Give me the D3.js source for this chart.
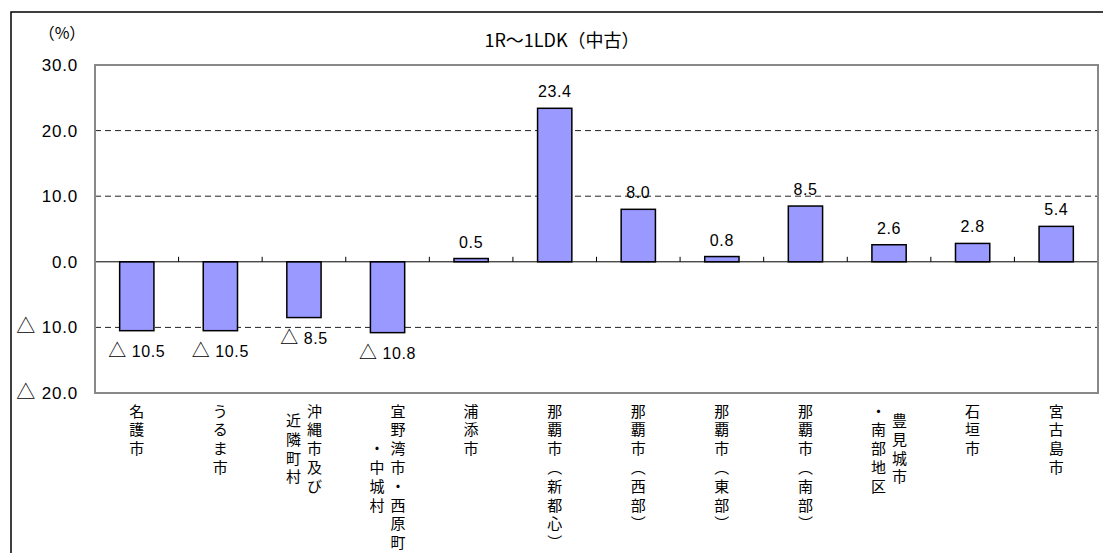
<!DOCTYPE html>
<html>
<head>
<meta charset="utf-8">
<script src="https://cdn.jsdelivr.net/npm/d3@7"></script>
<style>
  body { margin: 0; background: #fff; }
  svg { display: block; }
  text { font-family: "Liberation Sans", "Noto Sans CJK JP", sans-serif; fill: #000; }
  .cjk { font-family: "Noto Sans CJK JP", sans-serif; }
</style>
</head>
<body>
<div id="chart"></div>
<script>
// Data
const categories = ['名護市', 'うるま市', '沖縄市及び近隣町村', '宜野湾市・西原町・中城村', '浦添市',
  '那覇市（新都心）', '那覇市（西部）', '那覇市（東部）', '那覇市（南部）', '豊見城市・南部地区', '石垣市', '宮古島市'];
// vertical label columns, right to left
const labelLines = [['名護市'], ['うるま市'], ['沖縄市及び', '近隣町村'], ['宜野湾市・西原町', '・中城村'], ['浦添市'],
  ['那覇市（新都心）'], ['那覇市（西部）'], ['那覇市（東部）'], ['那覇市（南部）'], ['豊見城市', '・南部地区'], ['石垣市'], ['宮古島市']];
const values = [-10.5, -10.5, -8.5, -10.8, 0.5, 23.4, 8.0, 0.8, 8.5, 2.6, 2.8, 5.4];
const yTicks = [30, 20, 10, 0, -10, -20];
const gridTicks = [20, 10, -10];
const title = '1R～1LDK（中古）';
const unit = '（%）';

const W = 1103, H = 553;
const plot = { l: 95, t: 65, r: 1098, b: 393 };

const fmt = (v) => (v < 0 ? '△ ' + Math.abs(v).toFixed(1) : v.toFixed(1));

// put the triangle in the CJK font, numbers in the sans font
function triText(sel) {
  sel.each(function (d) {
    const t = d3.select(this).text('');
    if (d < 0) {
      t.append('tspan').attr('class', 'cjk').attr('font-size', '1.12em').text('△');
      t.append('tspan').text('\u00a0' + Math.abs(d).toFixed(1));
    } else {
      t.append('tspan').text(d.toFixed(1));
    }
  });
}

const svg = d3.select('#chart').append('svg').attr('width', W).attr('height', H);

// outer frame (runs past the window)
svg.append('rect')
  .attr('x', 11).attr('y', 12).attr('width', 1120).attr('height', 580)
  .attr('fill', 'none').attr('stroke', '#000').attr('stroke-width', 1.5);

const y = d3.scaleLinear([-20, 30], [plot.b, plot.t]);
const xOuter = d3.scaleBand(categories, [plot.l, plot.r]);
const x = d3.scaleBand(categories, [plot.l, plot.r]).paddingInner(0.59).paddingOuter(0.295);

// grid
svg.append('g')
  .selectAll('line')
  .data(gridTicks)
  .join('line')
  .attr('x1', plot.l).attr('x2', plot.r)
  .attr('y1', (d) => y(d)).attr('y2', (d) => y(d))
  .attr('stroke', '#222').attr('stroke-width', 1).attr('stroke-dasharray', '6,4');

// y axis labels
const yAxis = svg.append('g')
  .attr('transform', `translate(${plot.l}, 0)`)
  .call(d3.axisLeft(y).tickValues(yTicks).tickFormat(fmt).tickSize(0).tickPadding(17));
yAxis.select('.domain').remove();
yAxis.selectAll('text')
  .attr('font-size', 17).attr('font-family', null).attr('fill', '#000')
  .attr('letter-spacing', 0.8)
  .call(triText);

// bars
svg.append('g')
  .selectAll('rect')
  .data(values)
  .join('rect')
  .attr('x', (d, i) => x(categories[i]))
  .attr('y', (d) => y(Math.max(0, d)))
  .attr('width', x.bandwidth())
  .attr('height', (d) => Math.abs(y(d) - y(0)))
  .attr('fill', '#9999ff')
  .attr('stroke', '#000')
  .attr('stroke-width', 1.5);

// zero line + category ticks
svg.append('line')
  .attr('x1', plot.l).attr('x2', plot.r)
  .attr('y1', y(0)).attr('y2', y(0))
  .attr('stroke', '#000').attr('stroke-width', 1);
svg.append('g')
  .selectAll('line')
  .data(categories.slice(1))
  .join('line')
  .attr('x1', (d) => xOuter(d)).attr('x2', (d) => xOuter(d))
  .attr('y1', y(0)).attr('y2', y(0) - 5)
  .attr('stroke', '#000').attr('stroke-width', 1);

// plot frame
svg.append('rect')
  .attr('x', plot.l).attr('y', plot.t)
  .attr('width', plot.r - plot.l).attr('height', plot.b - plot.t)
  .attr('fill', 'none').attr('stroke', '#888').attr('stroke-width', 2);

// value labels
svg.append('g')
  .selectAll('text')
  .data(values)
  .join('text')
  .attr('x', (d, i) => x(categories[i]) + x.bandwidth() / 2)
  .attr('y', (d) => (d < 0 ? y(d) + 26 : y(d) - 11))
  .attr('text-anchor', 'middle')
  .attr('font-size', 16)
  .attr('letter-spacing', 0.6)
  .call(triText);

// vertical category labels
const rowH = 18.8, colW = 21, labelTop = 410;
const vert = (ch) => (ch === '（' ? '︵' : ch === '）' ? '︶' : ch);
labelLines.forEach((lines, i) => {
  const cx = xOuter(categories[i]) + xOuter.bandwidth() / 2;
  const maxLen = d3.max(lines, (s) => s.length);
  lines.forEach((s, j) => {
    const colX = cx + ((lines.length - 1) / 2) * colW - j * colW;
    const off = (maxLen - s.length) / 2;
    svg.append('g')
      .selectAll('text')
      .data(Array.from(s))
      .join('text')
      .attr('class', 'cjk')
      .attr('x', colX)
      .attr('y', (c, k) => labelTop + (k + off) * rowH)
      .attr('text-anchor', 'middle')
      .attr('dominant-baseline', 'central')
      .attr('font-size', 15)
      .text(vert);
  });
});

// title and unit
svg.append('text')
  .attr('x', 562).attr('y', 47)
  .attr('text-anchor', 'middle')
  .attr('font-size', 18)
  .attr('class', 'cjk')
  .text(title);
svg.append('text')
  .attr('x', 62).attr('y', 39)
  .attr('text-anchor', 'middle')
  .attr('font-size', 16)
  .attr('class', 'cjk')
  .text(unit);
</script>
</body>
</html>
